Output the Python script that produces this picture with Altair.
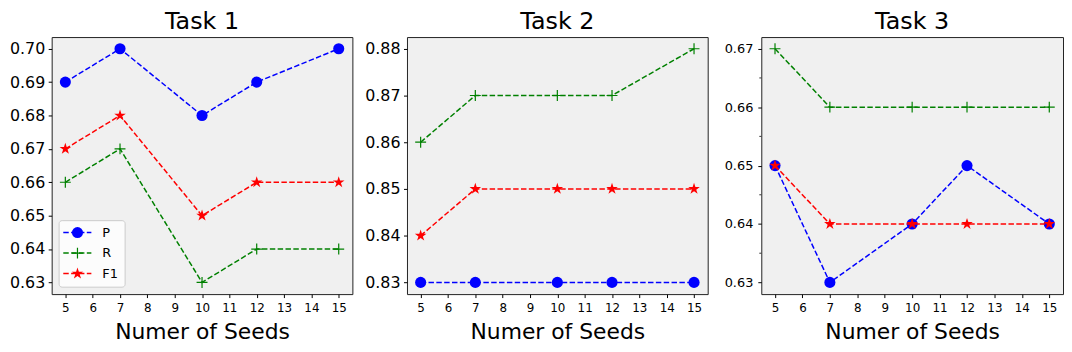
import altair as alt
import pandas as pd

seeds = [5, 7, 10, 12, 15]
x_ticks = [5, 6, 7, 8, 9, 10, 11, 12, 13, 14, 15]
series_names = ["P", "R", "F1"]
series_colors = ["#0000ff", "#008000", "#ff0000"]

task1_p = [0.69, 0.70, 0.68, 0.69, 0.70]
task1_r = [0.66, 0.67, 0.63, 0.64, 0.64]
task1_f1 = [0.67, 0.68, 0.65, 0.66, 0.66]

task2_p = [0.83, 0.83, 0.83, 0.83, 0.83]
task2_r = [0.86, 0.87, 0.87, 0.87, 0.88]
task2_f1 = [0.84, 0.85, 0.85, 0.85, 0.85]

task3_p = [0.65, 0.63, 0.64, 0.65, 0.64]
task3_r = [0.67, 0.66, 0.66, 0.66, 0.66]
task3_f1 = [0.65, 0.64, 0.64, 0.64, 0.64]

task1_yticks = [0.63, 0.64, 0.65, 0.66, 0.67, 0.68, 0.69, 0.70]
task2_yticks = [0.83, 0.84, 0.85, 0.86, 0.87, 0.88]
task3_yticks = [0.63, 0.64, 0.65, 0.66, 0.67]
task3_minor = [0.635, 0.645, 0.655, 0.665]

PLUS = "M-1,0L1,0M0,-1L0,1"
STAR = ("M0,-1L0.2245,-0.309L0.9511,-0.309L0.3633,0.118L0.5878,0.809L0,0.382"
        "L-0.5878,0.809L-0.3633,0.118L-0.9511,-0.309L-0.2245,-0.309Z")
FONT = "DejaVu Sans"
DASH = [5.5, 2.4]
H = 259

styles = {
    "P": dict(shape="circle", filled=True, size=125),
    "R": dict(shape=PLUS, filled=False, size=121),
    "F1": dict(shape=STAR, filled=True, size=150),
}


def point_mark(chart, name, color):
    st = styles[name]
    if st["filled"]:
        return chart.mark_point(shape=st["shape"], filled=True, size=st["size"],
                                color=color, opacity=1)
    return chart.mark_point(shape=st["shape"], filled=False, size=st["size"],
                            color=color, opacity=1, strokeWidth=1.2)


def make_panel(title, p, r, f1, yticks, ysize, lpad, width, extent, minor=None, legend=False):
    df = pd.DataFrame({
        "seeds": seeds * 3,
        "value": p + r + f1,
        "series": ["P"] * 5 + ["R"] * 5 + ["F1"] * 5,
    })
    allv = p + r + f1
    lo, hi = min(allv), max(allv)
    m = (hi - lo) * 0.05
    yscale = alt.Scale(domain=[lo - m, hi + m], nice=False, zero=False)
    xscale = alt.Scale(domain=[4.5, 15.5], nice=False, zero=False)
    x = alt.X("seeds:Q", scale=xscale,
              axis=alt.Axis(values=x_ticks, title="Numer of Seeds", labelFontSize=12,
                            labelFlush=False, labelOverlap=False, format="d"))
    y = alt.Y("value:Q", scale=yscale,
              axis=alt.Axis(values=yticks, format=".2f", title=None, labelFontSize=ysize,
                            labelPadding=lpad, minExtent=extent, maxExtent=extent,
                            labelOverlap=False))
    base = alt.Chart(df).encode(x=x, y=y)
    layers = []
    for name, color in zip(series_names, series_colors):
        sub = base.transform_filter(alt.datum.series == name)
        layers.append(sub.mark_line(color=color, strokeDash=DASH, strokeWidth=1.5))
        layers.append(point_mark(sub, name, color))
    if minor is not None:
        mdf = pd.DataFrame({"value": minor})
        layers.append(
            alt.Chart(mdf).mark_rule(color="black", strokeWidth=0.8).encode(
                y=y, x=alt.value(-2), x2=alt.value(0))
        )
    if legend:
        ldf = pd.DataFrame({"series": series_names})
        layers.append(
            alt.Chart(ldf).transform_filter(alt.datum.series == "P").mark_rect(
                fill="white", fillOpacity=0.8, stroke="#cccccc", strokeWidth=1, cornerRadius=3
            ).encode(x=alt.value(7.5), x2=alt.value(74), y=alt.value(185), y2=alt.value(252))
        )
        ys = [197, 217.7, 238.3]
        for name, color, yy in zip(series_names, series_colors, ys):
            lsub = alt.Chart(ldf).transform_filter(alt.datum.series == name)
            layers.append(lsub.mark_rule(color=color, strokeDash=DASH, strokeWidth=1.5).encode(
                x=alt.value(11.7), x2=alt.value(40), y=alt.value(yy)))
            layers.append(point_mark(lsub, name, color).encode(
                x=alt.value(26), y=alt.value(yy)))
            layers.append(lsub.mark_text(align="left", baseline="middle", fontSize=13,
                                         font=FONT, color="black").encode(
                x=alt.value(51), y=alt.value(yy), text=alt.Text("series:N")))
    return alt.layer(*layers).properties(
        width=width, height=H,
        title=alt.TitleParams(title, fontSize=24, font=FONT, fontWeight="normal",
                              color="black", anchor="middle", frame="group", offset=3),
    )


p1 = make_panel("Task 1", task1_p, task1_r, task1_f1, task1_yticks, 16, 3.5, 303, 42,
                legend=True)
p2 = make_panel("Task 2", task2_p, task2_r, task2_f1, task2_yticks, 16, 3.5, 303, 42)
p3 = make_panel("Task 3", task3_p, task3_r, task3_f1, task3_yticks, 13, 5, 304, 42,
                minor=task3_minor)

chart = alt.hconcat(p1, p2, p3, spacing=10).properties(
    padding=0, background="white"
).configure_view(
    fill="#f0f0f0", stroke="#222222", strokeWidth=1
).configure_axis(
    labelFont=FONT, labelColor="black", tickColor="black", tickSize=3.5, tickWidth=1,
    domain=False, grid=False, titleFont=FONT, titleFontSize=22,
    titleFontWeight="normal", titleColor="black", titlePadding=8
).configure_axisX(
    labelPadding=5
)

chart.save("out.html", embed_options={"renderer": "svg", "actions": False})
